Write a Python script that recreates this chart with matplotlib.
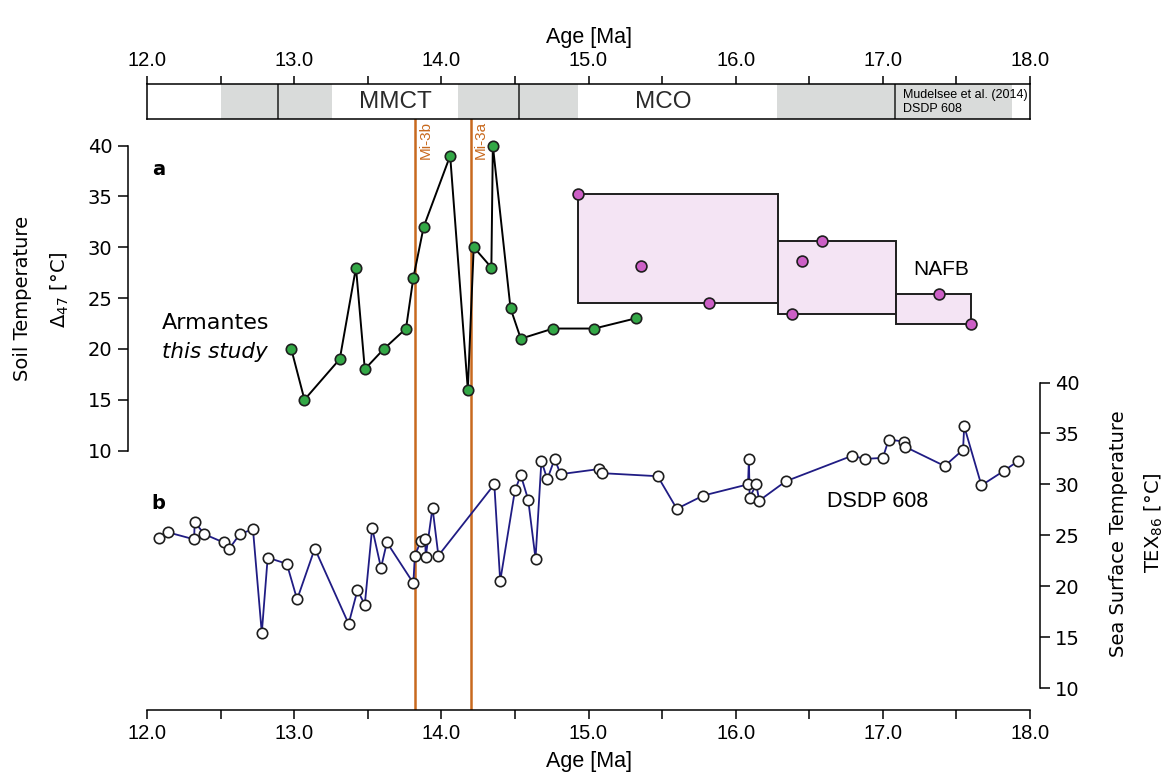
"""Armantes soil temperatures vs. DSDP 608 sea surface temperatures (12-18 Ma)."""

import matplotlib.pyplot as plt
from matplotlib.patches import Rectangle
from matplotlib.ticker import MultipleLocator, FormatStrFormatter

# ---- data -------------------------------------------------------------------
# panel a: Armantes clumped isotope soil temperatures (this study)
arm_age = [12.98, 13.07, 13.31, 13.42, 13.48, 13.61, 13.76, 13.81, 13.88, 14.06,
           14.18, 14.22, 14.34, 14.35, 14.47, 14.54, 14.76, 15.04, 15.32]
arm_t = [20, 15, 19, 28, 18, 20, 22, 27, 32, 39,
         16, 30, 28, 40, 24, 21, 22, 22, 23]

# panel a: NAFB temperatures, grouped into three age boxes
nafb_age = [14.93, 15.36, 15.82, 16.38, 16.45, 16.59, 17.38, 17.60]
nafb_t = [35.2, 28.2, 24.5, 23.4, 28.65, 30.65, 25.4, 22.4]
nafb_group = [0, 0, 0, 1, 1, 1, 2, 2]
nafb_edges = [14.93, 16.29, 17.09, 17.60]

# panel b: DSDP 608 TEX86 sea surface temperatures (Mudelsee et al. 2014)
dsdp_age = [12.08, 12.14, 12.32, 12.324, 12.39, 12.52, 12.56, 12.63, 12.72, 12.78,
            12.82, 12.95, 13.02, 13.14, 13.37, 13.43, 13.48, 13.53, 13.59, 13.63,
            13.81, 13.82, 13.86, 13.89, 13.894, 13.94, 13.98, 14.36, 14.40, 14.50,
            14.54, 14.59, 14.64, 14.68, 14.72, 14.77, 14.81, 15.07, 15.09, 15.47,
            15.60, 15.78, 16.084, 16.09, 16.095, 16.14, 16.16, 16.34, 16.79, 16.88,
            17.00, 17.04, 17.145, 17.15, 17.42, 17.545, 17.553, 17.67, 17.82, 17.92]
dsdp_t = [24.7, 25.3, 24.6, 26.3, 25.1, 24.3, 23.7, 25.1, 25.6, 15.4,
          22.8, 22.2, 18.7, 23.7, 16.3, 19.6, 18.2, 25.7, 21.8, 24.3,
          20.3, 23.0, 24.4, 24.6, 22.9, 27.7, 23.0, 30.0, 20.5, 29.4,
          30.9, 28.5, 22.7, 32.3, 30.5, 32.5, 31.0, 31.5, 31.1, 30.8,
          27.6, 28.9, 30.0, 32.5, 28.7, 30.0, 28.4, 30.3, 32.8, 32.5,
          32.6, 34.4, 34.2, 33.7, 31.8, 33.4, 35.7, 29.9, 31.3, 32.3]

# event bar along the top
grey_spans = [(12.5, 13.26), (14.11, 14.93), (16.28, 17.88)]
bar_dividers = [12.89, 14.53, 17.08]
bar_labels = ['MMCT', 'MCO']
bar_label_age = [13.69, 15.51]
mi_age = [13.82, 14.20]
mi_names = ['Mi-3b', 'Mi-3a']

# ---- style ------------------------------------------------------------------
plt.rcParams['font.family'] = 'DejaVu Sans'
plt.rcParams['axes.linewidth'] = 1.1
ARIAL = 'Liberation Sans'
ORANGE = '#c8691e'
GREY = '#d9dbda'
INK = '#1e1e1e'

W, H = 1166, 778


def frac(x0, y0, x1, y1):
    """pixel box (from top-left) -> figure fraction rect"""
    return [x0 / W, 1 - y1 / H, (x1 - x0) / W, (y1 - y0) / H]


fig = plt.figure(figsize=(W / 100, H / 100), dpi=100)

# ---- main axes --------------------------------------------------------------
ax = fig.add_axes(frac(147, 119, 1030, 710))
ax.set_facecolor('none')
ax.set_xlim(12, 18)
ax.set_ylim(-15.52, 42.61)
ax2 = ax.twinx()
ax2.set_ylim(7.84, 65.88)

for s in ['top', 'right']:
    ax.spines[s].set_visible(False)
for s in ['top', 'left', 'bottom']:
    ax2.spines[s].set_visible(False)
ax.spines['left'].set_bounds(10, 40)
ax.spines['left'].set_position(('outward', 14))
ax2.spines['right'].set_bounds(10, 40)
ax2.spines['right'].set_position(('outward', 7))

ax.set_yticks(range(10, 41, 5))
ax2.set_yticks(range(10, 41, 5))
ax.tick_params(axis='y', length=7, width=1.1, labelsize=14, pad=4)
ax2.tick_params(axis='y', length=7, width=1.1, labelsize=14, pad=4)

ax.xaxis.set_major_locator(MultipleLocator(1))
ax.xaxis.set_minor_locator(MultipleLocator(0.5))
ax.xaxis.set_major_formatter(FormatStrFormatter('%.1f'))
ax.tick_params(axis='x', which='both', length=6.2, width=1.1)
ax.tick_params(axis='x', labelsize=14.5, labelfontfamily=ARIAL, pad=4)
ax.set_xlabel('Age [Ma]', fontsize=15.5, family=ARIAL, labelpad=6)

# Mi events
for age, name in zip(mi_age, mi_names):
    ax.axvline(age, color=ORANGE, lw=1.8, zorder=1)
    ax.annotate(name, xy=(age, 1.0), xycoords=('data', 'axes fraction'),
                xytext=(2.5, -1.5), textcoords='offset points', rotation=90,
                ha='left', va='top', color=ORANGE, fontsize=11, family=ARIAL)

# NAFB boxes
for g in range(len(nafb_edges) - 1):
    ts = [t for t, k in zip(nafb_t, nafb_group) if k == g]
    ax.add_patch(Rectangle((nafb_edges[g], min(ts)), nafb_edges[g + 1] - nafb_edges[g],
                           max(ts) - min(ts), facecolor='#f4e4f4', edgecolor=INK,
                           lw=1.4, zorder=2))
ax.plot(nafb_age, nafb_t, ls='none', marker='o', ms=7.8, mfc='#cc5fc6',
        mec=INK, mew=1.2, zorder=4)

# Armantes
ax.plot(arm_age, arm_t, color='k', lw=1.4, marker='o', ms=7.5,
        mfc='#33a846', mec=INK, mew=1.2, zorder=3)

# DSDP 608
ax2.plot(dsdp_age, dsdp_t, color='#201c84', lw=1.3, marker='o', ms=7.5,
         mfc='white', mec=INK, mew=1.2, zorder=3)

# annotations
ax.text(12.08, 37.6, 'a', fontsize=14, weight='bold', ha='center', va='center')
ax2.text(12.075, 28.1, 'b', fontsize=14, weight='bold', ha='center', va='center')
ax.text(12.10, 22.5, 'Armantes', fontsize=16, ha='left', va='center')
ax.text(12.10, 19.7, 'this study', fontsize=15.5, style='italic', ha='left', va='center')
ax.text(17.395, 27.8, 'NAFB', fontsize=15, family=ARIAL, ha='center', va='center')
ax2.text(16.967, 28.3, 'DSDP 608', fontsize=15.5, family=ARIAL, ha='center', va='center')

# axis titles
fig.text(23 / W, 1 - 298 / H, 'Soil Temperature', rotation=90, fontsize=14,
         ha='center', va='center')
fig.text(60 / W, 1 - 290 / H, r'$\Delta_{47}$ [°C]', rotation=90, fontsize=14,
         ha='center', va='center')
fig.text(1118 / W, 1 - 534 / H, 'Sea Surface Temperature', rotation=90, fontsize=14,
         ha='center', va='center')
fig.text(1154 / W, 1 - 523 / H, r'TEX$_{86}$ [°C]', rotation=90, fontsize=14,
         ha='center', va='center')

# ---- event bar --------------------------------------------------------------
bar = fig.add_axes(frac(147, 84, 1030, 119))
bar.set_xlim(12, 18)
bar.set_ylim(0, 1)
for a, b in grey_spans:
    bar.axvspan(a, b, color=GREY, lw=0)
for d in bar_dividers:
    bar.axvline(d, color=INK, lw=1.1)
for lab, age in zip(bar_labels, bar_label_age):
    bar.text(age, 0.5, lab, fontsize=17.5, family=ARIAL, ha='center', va='center',
             color='#2a2a2a')
bar.text(17.14, 0.68, 'Mudelsee et al. (2014)', fontsize=9, family=ARIAL,
         ha='left', va='center')
bar.text(17.14, 0.29, 'DSDP 608', fontsize=9, family=ARIAL, ha='left', va='center')
bar.set_yticks([])
bar.xaxis.tick_top()
bar.xaxis.set_label_position('top')
bar.xaxis.set_major_locator(MultipleLocator(1))
bar.xaxis.set_minor_locator(MultipleLocator(0.5))
bar.xaxis.set_major_formatter(FormatStrFormatter('%.1f'))
bar.tick_params(axis='x', which='both', length=6, width=1.1)
bar.tick_params(axis='x', labelsize=14.5, labelfontfamily=ARIAL, pad=4)
bar.set_xlabel('Age [Ma]', fontsize=15.5, family=ARIAL, labelpad=6)

fig.savefig('out.png', dpi=100)
